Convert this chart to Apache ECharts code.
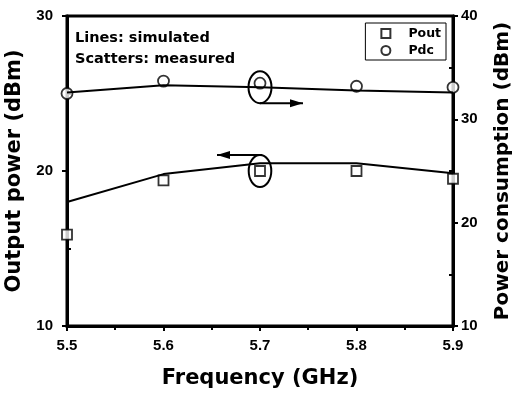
<!DOCTYPE html>
<html>
<head>
<meta charset="utf-8">
<script src="https://cdn.jsdelivr.net/npm/echarts@6/dist/echarts.min.js"></script>
<style>
html,body{margin:0;padding:0;background:#fff;}
#box1{width:513px;height:394px;}
</style>
</head>
<body>
<div id="box1"></div>
<script>
var freq = [5.5, 5.6, 5.7, 5.8, 5.9];
var poutSim = [18.0, 19.8, 20.5, 20.5, 19.85];
var poutMeas = [15.9, 19.4, 20.0, 20.0, 19.5];
var pdcSim = [32.6, 33.3, 33.1, 32.8, 32.6];
var pdcMeas = [32.5, 33.7, 33.5, 33.2, 33.1];
var leftMinor = [15, 25];
var rightMinor = [15, 25, 35];

function pairs(xs, ys){
    var out = [];
    for (var i = 0; i < xs.length; i++) out.push([xs[i], ys[i]]);
    return out;
}

var font = 'Liberation Sans, Arial, sans-serif';
var wide = 'DejaVu Sans, sans-serif';
var myChart = echarts.init(document.getElementById('box1'));

// overlay axis that only draws the inward minor ticks
function minorAxis(pos, min, max, vals){
    return {
        type: 'value', min: min, max: max, position: pos,
        axisLine: {show: false},
        axisLabel: {show: false},
        splitLine: {show: false},
        axisTick: {show: true, inside: true, length: 4, customValues: vals,
            lineStyle: {color: '#000', width: 2}}
    };
}

var option = {
    animation: false,
    grid: {left: 67, right: 60, top: 16, bottom: 68, outerBoundsMode: 'none',
        show: true, borderColor: '#000', borderWidth: 3},
    title: {
        text: 'Lines: simulated\nScatters: measured',
        left: 70, top: 23,
        textStyle: {fontFamily: wide, fontSize: 14.5, fontWeight: 'bold', color: '#000', lineHeight: 20.5}
    },
    legend: {
        data: [{name: 'Pout', icon: 'rect'}, {name: 'Pdc', icon: 'circle'}],
        orient: 'vertical',
        right: 67, top: 23,
        padding: [4, 5, 3, 15],
        itemGap: 4,
        itemWidth: 9, itemHeight: 9,
        borderColor: '#000', borderWidth: 1,
        textStyle: {fontFamily: wide, fontSize: 12.5, fontWeight: 'bold', color: '#000', padding: [0, 0, 0, 13]}
    },
    xAxis: {
        type: 'value', min: 5.5, max: 5.9, interval: 0.1,
        name: 'Frequency (GHz)', nameLocation: 'middle', nameGap: 42,
        nameTextStyle: {fontFamily: wide, fontSize: 21, fontWeight: 'bold', color: '#000'},
        axisLine: {lineStyle: {color: '#000', width: 3}},
        axisTick: {length: 5, lineStyle: {color: '#000', width: 2}},
        minorTick: {show: true, splitNumber: 2, length: 4, lineStyle: {color: '#000', width: 2}},
        axisLabel: {fontFamily: font, fontSize: 15, fontWeight: 'bold', color: '#000', margin: 12,
            formatter: function(v){ return v.toFixed(1); }},
        splitLine: {show: false}
    },
    yAxis: [{
        type: 'value', min: 10, max: 30, interval: 10, position: 'left',
        name: 'Output power (dBm)', nameLocation: 'middle', nameGap: 33,
        nameTextStyle: {fontFamily: wide, fontSize: 21, fontWeight: 'bold', color: '#000'},
        axisLine: {show: true, lineStyle: {color: '#000', width: 3}},
        axisTick: {show: true, length: 5, lineStyle: {color: '#000', width: 2}},
        axisLabel: {fontFamily: font, fontSize: 15, fontWeight: 'bold', color: '#000', margin: 14},
        splitLine: {show: false}
    }, {
        type: 'value', min: 10, max: 40, interval: 10, position: 'right',
        name: 'Power consumption (dBm)', nameLocation: 'middle', nameGap: 40,
        nameTextStyle: {fontFamily: wide, fontSize: 20, fontWeight: 'bold', color: '#000'},
        axisLine: {show: true, lineStyle: {color: '#000', width: 3}},
        axisTick: {show: true, length: 5, lineStyle: {color: '#000', width: 2}},
        axisLabel: {fontFamily: font, fontSize: 15, fontWeight: 'bold', color: '#000', margin: 8},
        splitLine: {show: false}
    },
        minorAxis('left', 10, 30, leftMinor),
        minorAxis('right', 10, 40, rightMinor)
    ],
    series: [{
        name: 'Pout sim', type: 'line', yAxisIndex: 0,
        data: pairs(freq, poutSim), symbol: 'none',
        lineStyle: {color: '#000', width: 2}
    }, {
        name: 'Pdc sim', type: 'line', yAxisIndex: 1,
        data: pairs(freq, pdcSim), symbol: 'none',
        lineStyle: {color: '#000', width: 2}
    }, {
        name: 'Pout', type: 'scatter', yAxisIndex: 0,
        data: pairs(freq, poutMeas), symbol: 'rect', symbolSize: 10,
        itemStyle: {color: '#fff', borderColor: '#000', borderWidth: 1.8}
    }, {
        name: 'Pdc', type: 'scatter', yAxisIndex: 1,
        data: pairs(freq, pdcMeas), symbol: 'circle', symbolSize: 11,
        itemStyle: {color: '#fff', borderColor: '#000', borderWidth: 1.8}
    }]
};
myChart.setOption(option);

// ellipses + arrows pointing to each curve's axis, placed from data values
var pUp = myChart.convertToPixel({xAxisIndex: 0, yAxisIndex: 1}, [freq[2], pdcMeas[2]]);
var pLo = myChart.convertToPixel({xAxisIndex: 0, yAxisIndex: 0}, [freq[2], poutMeas[2]]);
var arrowLen = 43;
var lineStyle = {stroke: '#000', lineWidth: 2, fill: null};
function arrowHead(x, y, dir){
    return {type: 'polygon', shape: {points: [[x, y], [x - dir * 13, y - 4], [x - dir * 13, y + 4]]},
        style: {fill: '#000'}};
}
myChart.setOption({
    graphic: [
        {type: 'ellipse', shape: {cx: pUp[0], cy: pUp[1] + 4, rx: 11.5, ry: 16}, style: lineStyle},
        {type: 'line', shape: {x1: pUp[0], y1: pUp[1] + 20, x2: pUp[0] + arrowLen, y2: pUp[1] + 20}, style: lineStyle},
        arrowHead(pUp[0] + arrowLen, pUp[1] + 20, 1),
        {type: 'ellipse', shape: {cx: pLo[0], cy: pLo[1], rx: 11.3, ry: 16}, style: lineStyle},
        {type: 'line', shape: {x1: pLo[0] + 2, y1: pLo[1] - 16, x2: pLo[0] - arrowLen, y2: pLo[1] - 16}, style: lineStyle},
        arrowHead(pLo[0] - arrowLen, pLo[1] - 16, -1)
    ]
});
</script>
</body>
</html>
